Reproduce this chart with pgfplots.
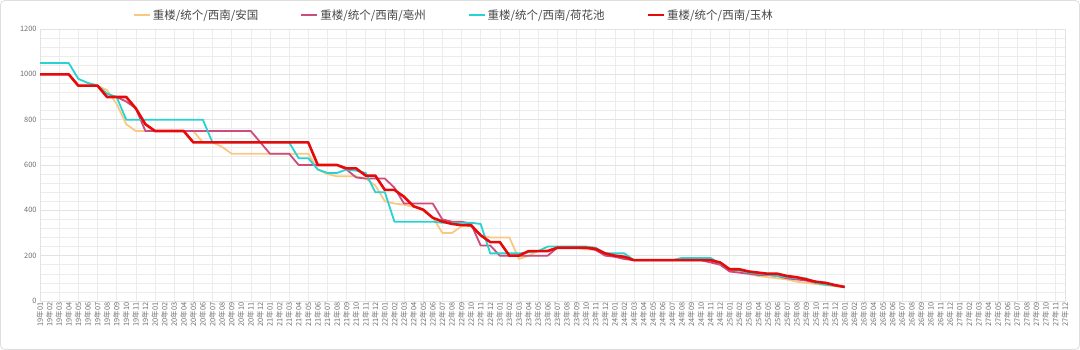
\documentclass[border=0pt]{standalone}
\usepackage{fontspec}
\setmainfont{Noto Sans CJK SC}
\usepackage{pgfplots}
\usepackage{pgfplotstable}
\pgfplotsset{compat=1.18}
\definecolor{cO}{RGB}{250,200,130}
\definecolor{cM}{RGB}{205,75,125}
\definecolor{cC}{RGB}{40,210,210}
\definecolor{cR}{RGB}{230,10,10}
\definecolor{gridc}{RGB}{226,226,226}
\definecolor{framec}{RGB}{222,222,222}
\definecolor{tickc}{RGB}{110,110,110}
\definecolor{legc}{RGB}{70,70,70}

\pgfplotstableread{
idx O M C R
0 1000 1000 1050 1000
1 1000 1000 1050 1000
2 1000 1000 1050 1000
3 1000 1000 1050 1000
4 950 950 980 950
5 950 950 962 950
6 950 950 950 950
7 930 900 915 900
8 870 900 900 900
9 780 880 800 900
10 750 850 800 850
11 750 750 800 780
12 750 750 800 750
13 750 750 800 750
14 750 750 800 750
15 750 750 800 750
16 750 750 800 700
17 700 750 800 700
18 700 750 700 700
19 680 750 700 700
20 650 750 700 700
21 650 750 700 700
22 650 750 700 700
23 650 700 700 700
24 650 650 700 700
25 650 650 700 700
26 650 650 700 700
27 650 600 630 700
28 650 600 630 700
29 580 600 580 600
30 560 600 565 600
31 550 600 565 600
32 550 580 580 585
33 550 545 575 585
34 540 540 565 553
35 510 540 480 553
36 440 540 480 490
37 430 500 350 490
38 425 430 350 460
39 415 430 350 418
40 400 430 350 403
41 370 430 350 367
42 300 360 345 351
43 300 350 345 340
44 330 350 345 335
45 330 340 345 334
46 290 245 340 290
47 280 245 210 260
48 280 200 210 260
49 280 200 210 200
50 185 200 210 200
51 200 200 215 220
52 220 200 220 220
53 225 200 240 220
54 235 235 240 235
55 235 235 240 235
56 235 235 240 235
57 228 235 240 235
58 225 225 235 230
59 205 200 210 210
60 200 195 210 200
61 195 185 210 195
62 180 180 180 180
63 180 180 180 180
64 180 180 180 180
65 180 180 180 180
66 180 180 180 180
67 180 180 190 180
68 180 180 190 180
69 180 180 190 180
70 180 170 190 180
71 160 160 165 170
72 135 130 140 140
73 130 125 135 140
74 120 120 125 130
75 110 115 120 125
76 105 115 115 120
77 100 110 110 120
78 95 100 105 110
79 85 95 100 105
80 80 90 100 95
81 75 80 80 85
82 70 75 72 80
83 65 68 68 70
84 60 62 62 62
}\datatable

\begin{document}
\begin{tikzpicture}
\useasboundingbox (0,0) rectangle (1080pt,350pt);
\draw[framec, line width=0.8pt, rounded corners=4pt] (0.6pt,0.6pt) rectangle (1079.4pt,349.4pt);
\begin{axis}[
  at={(40pt,49pt)}, anchor=south west,
  scale only axis, width=1025pt, height=272pt,
  xmin=0, xmax=107, ymin=0, ymax=1200,
  xtick={0,...,107},
  xticklabels={
    19年01,19年02,19年03,19年04,19年05,19年06,19年07,19年08,19年09,19年10,19年11,19年12,
    20年01,20年02,20年03,20年04,20年05,20年06,20年07,20年08,20年09,20年10,20年11,20年12,
    21年01,21年02,21年03,21年04,21年05,21年06,21年07,21年08,21年09,21年10,21年11,21年12,
    22年01,22年02,22年03,22年04,22年05,22年06,22年07,22年08,22年09,22年10,22年11,22年12,
    23年01,23年02,23年03,23年04,23年05,23年06,23年07,23年08,23年09,23年10,23年11,23年12,
    24年01,24年02,24年03,24年04,24年05,24年06,24年07,24年08,24年09,24年10,24年11,24年12,
    25年01,25年02,25年03,25年04,25年05,25年06,25年07,25年08,25年09,25年10,25年11,25年12,
    26年01,26年02,26年03,26年04,26年05,26年06,26年07,26年08,26年09,26年10,26年11,26年12,
    27年01,27年02,27年03,27年04,27年05,27年06,27年07,27年08,27年09,27年10,27年11,27年12},
  minor xtick={0,2,...,106},
  ytick={0,200,...,1200},
  minor ytick={40,80,...,1160},
  xmajorgrids=false, xminorgrids=true,
  ymajorgrids=true, yminorgrids=true,
  major grid style={gridc, line width=0.6pt},
  minor grid style={color={rgb,255:red,236;green,236;blue,236}, line width=0.5pt},
  major tick length=0pt, minor tick length=0pt,
  axis line style={gridc},
  /pgf/number format/assume math mode=true,
  /pgf/number format/1000 sep={},
  yticklabel style={font=\fontsize{7.4}{8}\selectfont, text=tickc},
  xticklabel style={rotate=90, anchor=east, font=\fontsize{7.4}{8}\selectfont, text=tickc, inner sep=1.5pt},
  line join=round,
  legend columns=4,
  legend style={at={(axis description cs:0.0907,1.051)}, anchor=west, draw=none, fill=none,
    font=\fontsize{11.5}{13}\selectfont, text=legc, inner sep=0pt,
    /tikz/every even column/.append style={column sep=40pt}},
  legend cell align=left,
  legend image code/.code={\draw[#1] (0pt,0pt) -- (16pt,0pt);},
]
\addplot[cO, line width=1.8pt] table[x=idx, y=O] {\datatable};
\addlegendentry{重楼/统个/西南/安国}
\addplot[cM, line width=1.8pt] table[x=idx, y=M] {\datatable};
\addlegendentry{重楼/统个/西南/亳州}
\addplot[cC, line width=1.8pt] table[x=idx, y=C] {\datatable};
\addlegendentry{重楼/统个/西南/荷花池}
\addplot[cR, line width=2.6pt] table[x=idx, y=R] {\datatable};
\addlegendentry{重楼/统个/西南/玉林}
\end{axis}
\end{tikzpicture}
\end{document}
